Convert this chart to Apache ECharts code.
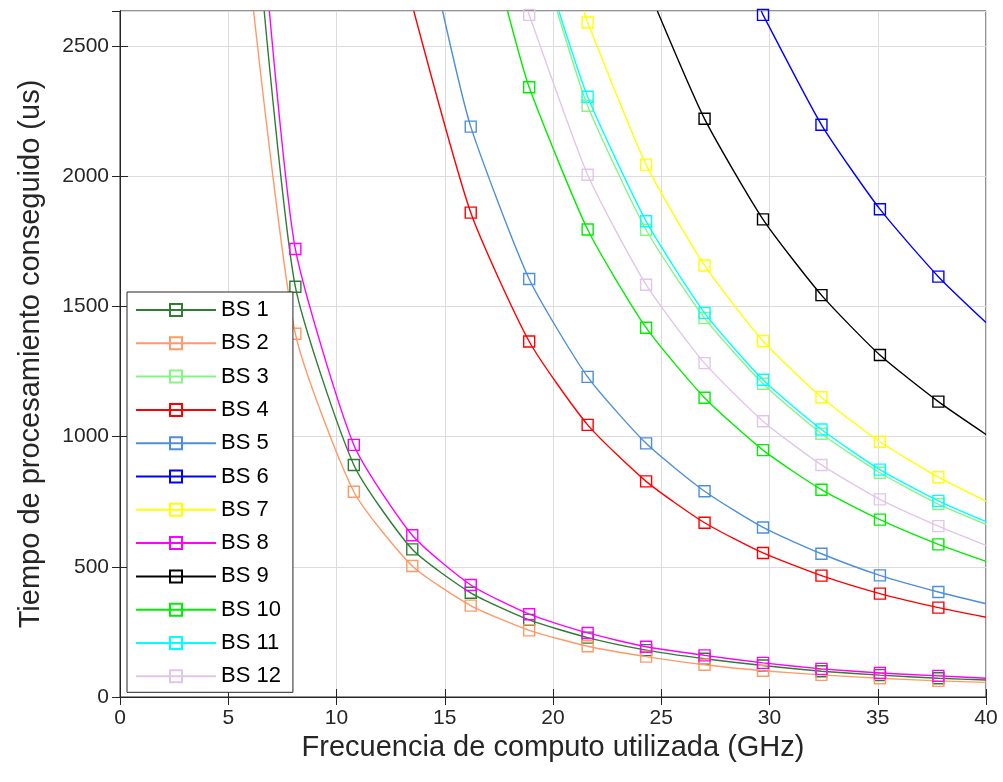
<!DOCTYPE html>
<html>
<head>
<meta charset="utf-8">
<title>Tiempo de procesamiento</title>
<script src="https://cdn.jsdelivr.net/npm/echarts/dist/echarts.min.js"></script>
<style>
  html, body { margin: 0; padding: 0; background: #fff; }
  #chart { width: 1003px; height: 782px; }
</style>
</head>
<body>
<div id="chart"></div>
<script>
// frecuencias donde se dibujan los marcadores (GHz)
var xMarks = [8.1, 10.8, 13.5, 16.2, 18.9, 21.6, 24.3, 27, 29.7, 32.4, 35.1, 37.8];

var bsNames = ['BS 1', 'BS 2', 'BS 3', 'BS 4', 'BS 5', 'BS 6', 'BS 7', 'BS 8', 'BS 9', 'BS 10', 'BS 11', 'BS 12'];
var bsColors = ['#2f7d32', '#ff9966', '#85f585', '#ff0000', '#4d8fdb', '#0000ff',
                '#ffff00', '#ff00ff', '#000000', '#00ee00', '#00ffff', '#e3c5ec'];

// tiempo conseguido (us) en cada marcador, null = fuera del grafico
var bs1  = [1575, 891, 567, 400, 296, 228, 180, 147, 121, 99, 84, 72];
var bs2  = [1395, 788, 503, 351, 256, 195, 155, 124, 101, 85, 72, 62];
var bs3  = [null, null, null, null, null, 2270, 1794, 1455, 1203, 1011, 861, 741];
var bs4  = [null, null, null, 1860, 1365, 1045, 828, 669, 553, 466, 397, 343];
var bs5  = [null, null, null, 2190, 1605, 1229, 974, 790, 651, 550, 467, 403];
var bs6  = [null, null, null, null, null, null, null, null, 2619, 2197, 1873, 1614];
var bs7  = [null, null, null, null, null, 2590, 2044, 1657, 1367, 1151, 980, 844];
var bs8  = [1720, 968, 621, 430, 318, 246, 193, 160, 131, 108, 92, 81];
var bs9  = [null, null, null, null, null, null, null, 2220, 1834, 1543, 1313, 1134];
var bs10 = [null, null, null, null, 2341, 1795, 1418, 1149, 948, 796, 681, 586];
var bs11 = [null, null, null, null, null, 2305, 1827, 1475, 1218, 1027, 873, 753];
var bs12 = [null, null, null, null, 2619, 2005, 1583, 1282, 1059, 891, 759, 656];
var bsValues = [bs1, bs2, bs3, bs4, bs5, bs6, bs7, bs8, bs9, bs10, bs11, bs12];

// donde cada curva sale por arriba del eje y su valor en 40 GHz
var topExitX = [6.66, 6.17, 20.19, 13.57, 14.9, 29.62, 21.43, 6.9, 24.82, 17.9, 20.27, 18.85];
var valueAt40 = [65, 56, 663, 306, 358, 1438, 752, 72, 1008, 521, 673, 582];

var xTicks = { min: 0, max: 40, step: 5 };
var yTicks = { min: 0, max: 2634, step: 500 };

var myChart = echarts.init(document.getElementById('chart'), null, { renderer: 'canvas' });

var fontName = 'Liberation Sans';
var axisColor = '#262626';

var series = bsNames.map(function (name, i) {
  var data = [{ value: [topExitX[i], yTicks.max], symbol: 'none' }];
  xMarks.forEach(function (x, j) {
    if (bsValues[i][j] != null) data.push([x, bsValues[i][j]]);
  });
  data.push({ value: [40, valueAt40[i]], symbol: 'none' });
  return {
    name: name,
    type: 'line',
    data: data,
    smooth: 0.2,
    clip: true,
    symbol: 'rect',
    symbolSize: 11,
    showAllSymbol: true,
    lineStyle: { color: bsColors[i], width: 1.4 },
    itemStyle: { color: 'rgba(255,255,255,0)', borderColor: bsColors[i], borderWidth: 1.4 },
    emphasis: { disabled: true },
    z: 2 + i
  };
});

function plainNumber(v) { return String(v); }

var option = {
  animation: false,
  backgroundColor: '#fff',
  textStyle: { fontFamily: fontName },
  grid: { left: 120, right: 17, top: 11, bottom: 85, show: true, borderColor: axisColor, borderWidth: 1, backgroundColor: '#fff' },
  legend: {
    data: bsNames,
    orient: 'vertical',
    left: 127,
    top: 292,
    itemWidth: 80,
    itemHeight: 15,
    itemGap: 7.3,
    padding: [5, 12, 3, 8],
    backgroundColor: '#fff',
    borderColor: axisColor,
    borderWidth: 1,
    borderRadius: 0,
    selectedMode: false,
    textStyle: { fontFamily: fontName, fontSize: 22, color: '#000', lineHeight: 26 }
  },
  xAxis: [{
    type: 'value',
    min: xTicks.min, max: xTicks.max, interval: xTicks.step,
    name: 'Frecuencia de computo utilizada (GHz)',
    nameLocation: 'middle',
    nameGap: 27,
    nameTextStyle: { fontFamily: fontName, fontSize: 29, color: axisColor },
    axisLine: { show: true, lineStyle: { color: axisColor, width: 1 } },
    axisTick: { show: true, inside: true, length: 8, lineStyle: { color: axisColor } },
    axisLabel: { fontFamily: fontName, fontSize: 21, color: axisColor, margin: 11, formatter: plainNumber },
    splitLine: { show: true, lineStyle: { color: '#dcdcdc', width: 1 } }
  }, {
    type: 'value', position: 'top',
    min: xTicks.min, max: xTicks.max, interval: xTicks.step,
    axisLine: { show: true, lineStyle: { color: axisColor } },
    axisTick: { show: true, inside: true, length: 8, lineStyle: { color: axisColor } },
    axisLabel: { show: false },
    splitLine: { show: false }
  }],
  yAxis: [{
    type: 'value',
    min: yTicks.min, max: yTicks.max, interval: yTicks.step,
    name: 'Tiempo de procesamiento conseguido (us)',
    nameLocation: 'middle',
    nameGap: 75,
    nameTextStyle: { fontFamily: fontName, fontSize: 29, color: axisColor },
    axisLine: { show: true, lineStyle: { color: axisColor, width: 1 } },
    axisTick: { show: true, inside: true, length: 8, lineStyle: { color: axisColor } },
    axisLabel: { fontFamily: fontName, fontSize: 21, color: axisColor, margin: 11, showMaxLabel: false, formatter: plainNumber },
    splitLine: { show: true, lineStyle: { color: '#dcdcdc', width: 1 } }
  }, {
    type: 'value', position: 'right',
    min: yTicks.min, max: yTicks.max, interval: yTicks.step,
    axisLine: { show: true, lineStyle: { color: axisColor } },
    axisTick: { show: true, inside: true, length: 8, lineStyle: { color: axisColor } },
    axisLabel: { show: false },
    splitLine: { show: false }
  }],
  series: series
};

myChart.setOption(option);
</script>
</body>
</html>
